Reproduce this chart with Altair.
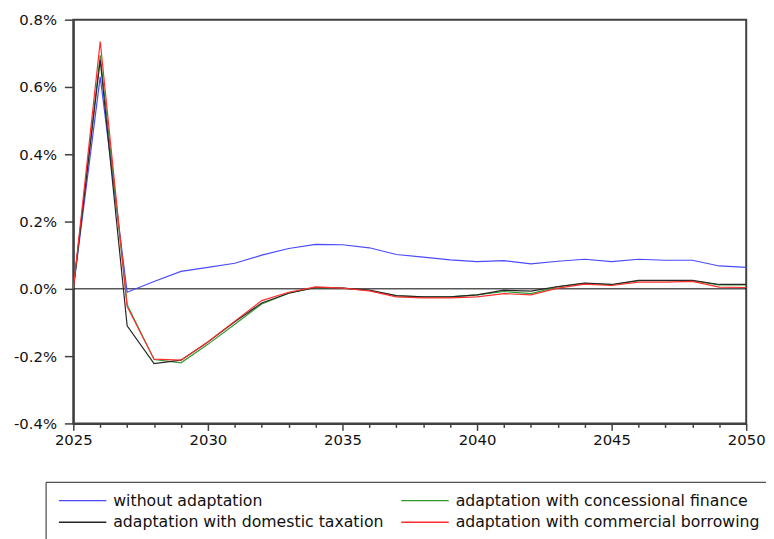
import altair as alt
import pandas as pd

years = list(range(2025, 2051))

# legend is filled column by column: col 1 = first two, col 2 = last two
series_names = [
    "without adaptation",
    "adaptation with domestic taxation",
    "adaptation with concessional finance",
    "adaptation with commercial borrowing",
]
series_colors = ["#4a4aff", "#262626", "#2f9a2f", "#ff2e2e"]

without_adaptation = [0.0, 0.63, -0.01, 0.022, 0.052, 0.064, 0.076, 0.100, 0.120, 0.132,
                      0.131, 0.122, 0.102, 0.094, 0.086, 0.081, 0.084, 0.074, 0.082, 0.088,
                      0.081, 0.088, 0.085, 0.085, 0.068, 0.064]
domestic_taxation = [0.0, 0.680, -0.110, -0.222, -0.212, -0.158, -0.098, -0.042, -0.013, 0.004,
                     0.002, -0.004, -0.020, -0.024, -0.024, -0.018, -0.004, -0.007, 0.007, 0.017,
                     0.013, 0.025, 0.025, 0.025, 0.013, 0.013]
concessional_finance = [0.0, 0.694, -0.047, -0.210, -0.220, -0.165, -0.105, -0.045, -0.013, 0.004,
                        0.002, -0.005, -0.021, -0.024, -0.024, -0.018, -0.008, -0.014, 0.006, 0.016,
                        0.012, 0.024, 0.024, 0.024, 0.012, 0.012]
commercial_borrowing = [0.0, 0.735, -0.053, -0.209, -0.212, -0.158, -0.096, -0.035, -0.010, 0.006,
                        0.002, -0.006, -0.024, -0.027, -0.027, -0.024, -0.014, -0.018, 0.002, 0.014,
                        0.010, 0.020, 0.020, 0.022, 0.005, 0.004]

y_ticks = [-0.4, -0.2, 0.0, 0.2, 0.4, 0.6, 0.8]

values_by_series = [without_adaptation, domestic_taxation, concessional_finance, commercial_borrowing]
rows = []
for name, vals in zip(series_names, values_by_series):
    for yr, v in zip(years, vals):
        rows.append({"year": yr, "value": v, "series": name})
df = pd.DataFrame(rows)

FONT = "DejaVu Sans"

x_enc = alt.X(
    "year:Q",
    scale=alt.Scale(domain=[2025, 2050], nice=False, zero=False),
    axis=alt.Axis(
        values=years,
        format="d",
        labelExpr="datum.value % 5 === 0 ? datum.label : ''",
        tickSize={"condition": {"test": "datum.value % 5 === 0", "value": 7}, "value": 4},
        labelOverlap=False,
        labelFlush=False,
        labelPadding=2,
        title=None,
        grid=False,
    ),
)
y_enc = alt.Y(
    "value:Q",
    scale=alt.Scale(domain=[-0.4, 0.8], nice=False, zero=False),
    axis=alt.Axis(
        values=y_ticks,
        labelExpr="replace(format(datum.value, '.1f'), '\u2212', '-') + '%'",
        tickSize=9,
        labelPadding=8,
        title=None,
        grid=False,
    ),
)
color_enc = alt.Color(
    "series:N",
    scale=alt.Scale(domain=series_names, range=series_colors),
    title=None,
    legend=alt.Legend(
        orient="none",
        legendX=-28,
        legendY=467,
        columns=2,
        columnPadding=14,
        rowPadding=5,
        symbolType="M-5,0H5",
        symbolSize=92,
        symbolStrokeWidth=1.5,
        symbolOffset=18.45,
        labelOffset=23,
        labelFontSize=15.9,
        labelFont=FONT,
        labelColor="#111111",
        strokeColor="#222222",
        fillColor="white",
        padding=11,
        labelLimit=400,
    ),
)

zero = pd.DataFrame({"value": [0.0]})
zero_line = alt.Chart(zero).mark_rule(color="black", strokeWidth=1).encode(y="value:Q")

draw_order = [series_names[0], series_names[2], series_names[1], series_names[3]]
layers = [zero_line]
for s in draw_order:
    layers.append(
        alt.Chart(df)
        .transform_filter(alt.datum.series == s)
        .mark_line(strokeWidth=1.2)
        .encode(x=x_enc, y=y_enc, color=color_enc)
    )

chart = (
    alt.layer(*layers)
    .properties(
        width=680,
        height=408,
        background="white",
        autosize=alt.AutoSizeParams(type="none"),
        padding={"left": 66, "top": 9, "right": 20, "bottom": 114},
    )
    .configure_view(stroke="#404040", strokeWidth=2)
    .configure_axis(
        domainColor="#404040",
        domainWidth=2,
        tickColor="#404040",
        tickWidth=1.5,
        labelFont=FONT,
        labelFontSize=15,
        labelColor="#111111",
    )
)

chart.save("out.html", embed_options={"renderer": "svg", "actions": False})
